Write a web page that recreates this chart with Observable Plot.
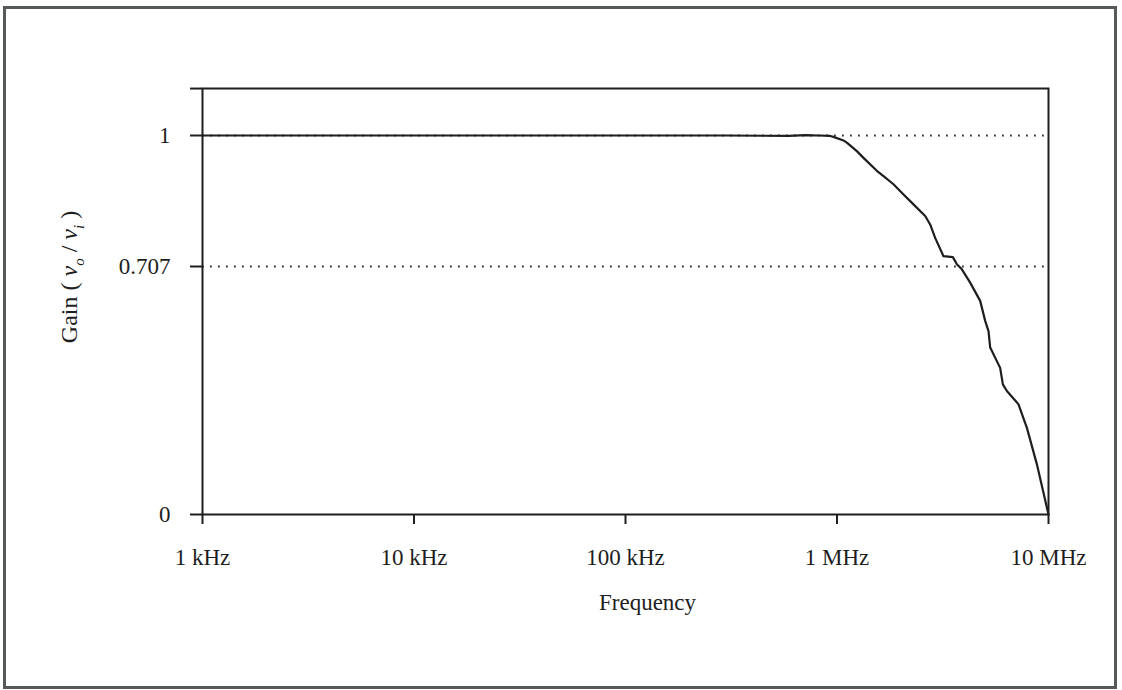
<!DOCTYPE html>
<html>
<head>
<meta charset="utf-8">
<script src="https://cdn.jsdelivr.net/npm/d3@7"></script>
<script src="https://cdn.jsdelivr.net/npm/@observablehq/plot@0.6"></script>
<style>
  html, body { margin: 0; padding: 0; background: #fff; }
  #wrap { position: relative; width: 1122px; height: 690px; overflow: hidden; }
  #border { position: absolute; left: 3px; top: 6px; width: 1114px; height: 683px;
            box-sizing: border-box; border: 3px solid #565a56; pointer-events: none; }
  #chart { position: absolute; left: 0; top: 0; }
</style>
</head>
<body>
<div id="wrap"><div id="chart"></div><div id="border"></div></div>
<script>
// ---- data ----
const freqHz = [1e3, 1e4, 1e5, 3e5, 5.9e5, 7.1e5, 8.2e5, 9.28e5, 9.62e5, 1.073e6, 1.113e6,
  1.241e6, 1.334e6, 1.543e6, 1.659e6, 1.849e6, 2.063e6, 2.299e6, 2.612e6, 2.757e6, 2.912e6,
  3.187e6, 3.531e6, 3.688e6, 3.894e6, 4.263e6, 4.753e6, 5.019e6, 5.204e6, 5.301e6, 5.908e6,
  6.085e6, 6.356e6, 7.214e6, 7.905e6, 8.814e6, 1e7];
const gain = [1, 1, 1, 1, 0.999, 1.001, 1.0, 0.999, 0.997, 0.989, 0.984,
  0.965, 0.950, 0.921, 0.909, 0.891, 0.868, 0.846, 0.820, 0.801, 0.771,
  0.730, 0.728, 0.712, 0.699, 0.661, 0.609, 0.552, 0.523, 0.476, 0.418,
  0.371, 0.352, 0.314, 0.247, 0.143, 0.0];
const xTickValues = [1e3, 1e4, 1e5, 1e6, 1e7];
const xTickLabels = ["1 kHz", "10 kHz", "100 kHz", "1 MHz", "10 MHz"];
const yTickValues = [0, 0.707, 1, 1.105];
const yTickLabels = ["0", "0.707", "1", ""];
const refLevels = [1, 0.707];
const xTitle = "Frequency";

const data = freqHz.map((f, i) => ({f, g: gain[i]}));

// ---- layout ----
const W = 1122, H = 690;
const mTop = 88, mRight = 74, mBottom = 176, mLeft = 202;
const yBottom = H - mBottom;
const ink = "#1e1e1e";
const font = "'Liberation Serif', 'Times New Roman', serif";

const chart = Plot.plot({
  width: W, height: H,
  marginTop: mTop, marginRight: mRight, marginBottom: mBottom, marginLeft: mLeft,
  style: {fontFamily: font, fontSize: "23px", color: ink, background: "transparent"},
  x: {type: "log", domain: [1e3, 1e7]},
  y: {type: "linear", domain: [0, 0.707, 1], range: [yBottom, yBottom - 248, yBottom - 379]},
  marks: [
    Plot.ruleY(refLevels, {stroke: "#333", strokeWidth: 1.8, strokeDasharray: "1.8 6.2"}),
    Plot.line(data, {x: "f", y: "g", stroke: ink, strokeWidth: 2.2}),
    Plot.frame({stroke: ink, strokeWidth: 2}),
    Plot.axisX({ticks: xTickValues, tickFormat: d => xTickLabels[xTickValues.indexOf(d)],
      tickSize: 10, tickPadding: 24, label: null, stroke: ink, strokeWidth: 2,
      fontSize: 23, fill: ink}),
    Plot.axisY({ticks: yTickValues, tickFormat: d => yTickLabels[yTickValues.indexOf(d)],
      tickSize: 12, tickPadding: 20, label: null, stroke: ink, strokeWidth: 2,
      fontSize: 23, fill: ink}),
    Plot.text([xTitle], {text: d => d, frameAnchor: "bottom", dx: 22, dy: 95,
      fontSize: 23, fill: ink})
  ]
});
document.getElementById("chart").appendChild(chart);

// y-axis title with italic v and subscripts
const yl = d3.select(chart).append("text")
  .attr("transform", "translate(77,277) rotate(-90)")
  .attr("text-anchor", "middle")
  .attr("font-family", font)
  .attr("font-size", 24)
  .attr("fill", ink);
yl.append("tspan").text("Gain ( ");
yl.append("tspan").attr("font-style", "italic").text("v");
yl.append("tspan").attr("font-size", 15).attr("font-style", "italic").attr("dy", 7).text("o");
yl.append("tspan").attr("dy", -7).text(" / ");
yl.append("tspan").attr("font-style", "italic").text("v");
yl.append("tspan").attr("font-size", 15).attr("font-style", "italic").attr("dy", 7).text("i");
yl.append("tspan").attr("dy", -7).text(" )");
</script>
</body>
</html>
